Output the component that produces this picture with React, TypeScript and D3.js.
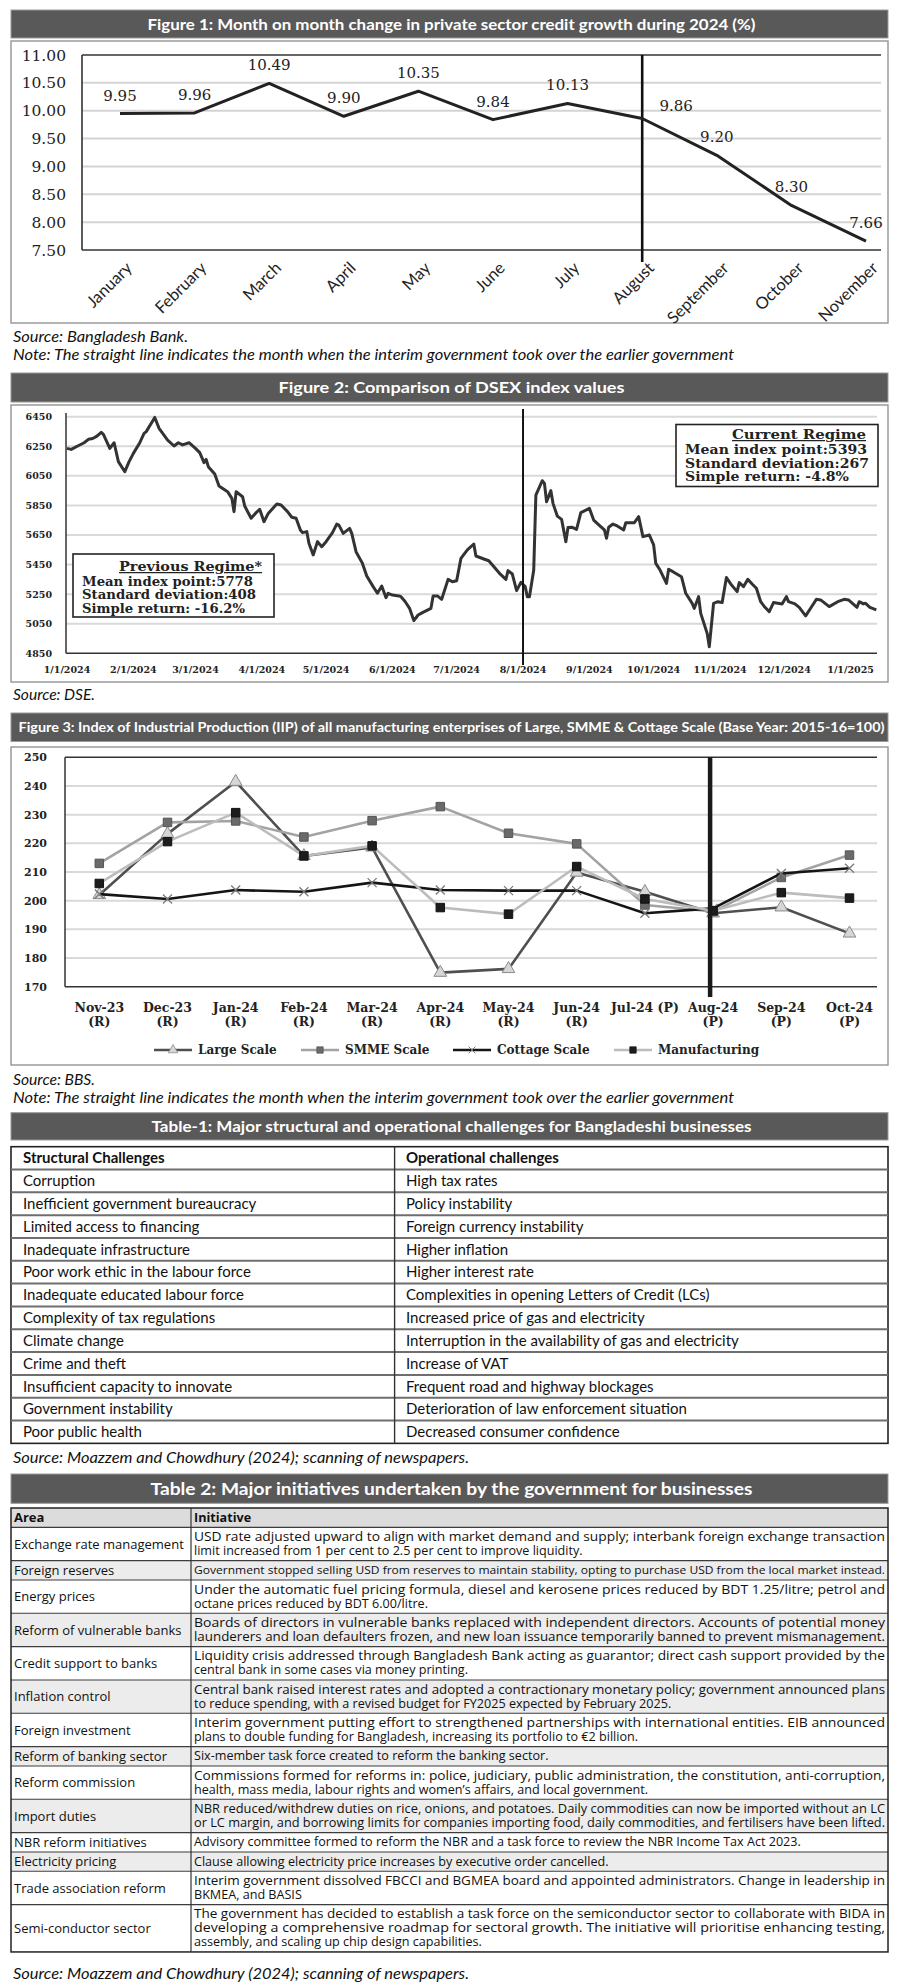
import React from 'react';
import * as d3 from 'd3';

const SANS = "Lato, 'Open Sans', sans-serif";
const SANS2 = "'Open Sans', Lato, sans-serif";
const SERIF = "'DejaVu Serif', 'Liberation Serif', serif";

// ---------------- Figure 1 data ----------------
const creditMonths = ['January', 'February', 'March', 'April', 'May', 'June', 'July', 'August', 'September', 'October', 'November'];
const creditGrowth = [9.95, 9.96, 10.49, 9.9, 10.35, 9.84, 10.13, 9.86, 9.2, 8.3, 7.66];
const creditYTicks = [7.5, 8, 8.5, 9, 9.5, 10, 10.5, 11];
const creditTakeover = 'August';

// ---------------- Figure 2 data ----------------
const dsexStart = '2024-01-01';
const dsexDayOffsets = [
  0, 2, 5, 8, 10, 12, 14, 16, 17, 20, 22, 24, 27, 29, 31, 34, 36, 37, 41, 43, 47, 50, 52, 54, 57, 60, 62, 64, 65, 66,
  69, 71, 75, 77, 78, 79, 82, 83, 86, 88, 90, 92, 94, 98, 100, 103, 105, 107, 109, 110, 112, 113, 115, 117, 119, 121,
  124, 126, 127, 129, 132, 133, 135, 138, 140, 143, 145, 147, 149, 150, 152, 155, 156, 158, 160, 162, 164, 166, 170,
  171, 173, 175, 178, 180, 182, 184, 187, 190, 191, 195, 197, 200, 202, 205, 206, 208, 210, 212, 214, 215, 216, 218,
  219, 222, 223, 224, 226, 227, 229, 231, 233, 234, 236, 238, 240, 244, 246, 248, 251, 252, 253, 255, 257, 260, 261,
  265, 267, 269, 272, 274, 275, 277, 280, 281, 283, 287, 289, 292, 293, 295, 296, 299, 300, 302, 304, 306, 308, 310,
  313, 314, 316, 318, 320, 322, 324, 326, 328, 330, 334, 336, 337, 340, 342, 345, 348, 350, 352, 356, 360, 363, 365,
  369, 370, 372, 373, 375, 378,
];
const dsexValues = [
  6236, 6229, 6252, 6274, 6297, 6303, 6319, 6344, 6331, 6236, 6274, 6146, 6078, 6146, 6202, 6274, 6337, 6349, 6445, 6371,
  6292, 6252, 6274, 6259, 6274, 6236, 6207, 6139, 6161, 6112, 6062, 5981, 5943, 5898, 5808, 5943, 5909, 5846, 5763, 5796,
  5824, 5740, 5796, 5860, 5853, 5808, 5770, 5763, 5684, 5666, 5673, 5594, 5515, 5605, 5571, 5605, 5666, 5724, 5717, 5661,
  5695, 5661, 5537, 5458, 5373, 5301, 5256, 5305, 5226, 5256, 5244, 5238, 5233, 5199, 5154, 5071, 5109, 5125, 5154, 5238,
  5238, 5215, 5350, 5334, 5341, 5492, 5549, 5589, 5508, 5486, 5476, 5425, 5391, 5350, 5409, 5386, 5274, 5330, 5301, 5233,
  5233, 5413, 5920, 6017, 5999, 5875, 5950, 5864, 5778, 5756, 5605, 5700, 5702, 5688, 5801, 5830, 5751, 5724, 5684, 5628,
  5702, 5724, 5711, 5684, 5733, 5733, 5774, 5639, 5650, 5583, 5458, 5413, 5323, 5418, 5402, 5368, 5256, 5188, 5154, 5233,
  5120, 4985, 4895, 5188, 5199, 5193, 5362, 5319, 5267, 5328, 5301, 5350, 5319, 5290, 5199, 5161, 5132, 5193, 5184, 5233,
  5199, 5184, 5161, 5103, 5170, 5215, 5211, 5166, 5199, 5215, 5211, 5161, 5199, 5184, 5188, 5161, 5143,
];
const dsexYTicks = [4850, 5050, 5250, 5450, 5650, 5850, 6050, 6250, 6450];
const dsexTickDates = ['2024-01-01', '2024-02-01', '2024-03-01', '2024-04-01', '2024-05-01', '2024-06-01', '2024-07-01', '2024-08-01', '2024-09-01', '2024-10-01', '2024-11-01', '2024-12-01', '2025-01-01'];
const dsexTakeover = '2024-08-01';
const previousRegimeTitle = 'Previous Regime*';
const previousRegimeLines = ['Mean index point:5778', 'Standard deviation:408', 'Simple return: -16.2%'];
const currentRegimeTitle = 'Current Regime';
const currentRegimeLines = ['Mean index point:5393', 'Standard deviation:267', 'Simple return: -4.8%'];

// ---------------- Figure 3 data ----------------
const iipMonths = ['Nov-23', 'Dec-23', 'Jan-24', 'Feb-24', 'Mar-24', 'Apr-24', 'May-24', 'Jun-24', 'Jul-24', 'Aug-24', 'Sep-24', 'Oct-24'];
const iipStatus = ['(R)', '(R)', '(R)', '(R)', '(R)', '(R)', '(R)', '(R)', '(P)', '(P)', '(P)', '(P)'];
const iipLarge = [202.0, 223.3, 241.5, 215.6, 218.6, 174.9, 176.2, 209.8, 203.1, 195.6, 197.7, 188.6];
const iipSmme = [213.0, 227.3, 227.8, 222.2, 227.9, 232.8, 223.5, 219.8, 198.5, 196.2, 208.1, 215.9];
const iipCottage = [202.3, 200.6, 203.7, 203.1, 206.3, 203.7, 203.5, 203.5, 195.6, 197.3, 209.5, 211.3];
const iipManufacturing = [206.0, 220.6, 230.7, 215.6, 219.1, 197.6, 195.3, 211.9, 200.6, 196.5, 202.8, 200.9];
const iipSeriesNames = ['Large Scale', 'SMME Scale', 'Cottage Scale', 'Manufacturing'];
const iipYTicks = [170, 180, 190, 200, 210, 220, 230, 240, 250];
const iipTakeover = 'Aug-24';

// ---------------- Table 1 data ----------------
const table1Headers = ['Structural Challenges', 'Operational challenges'];
const table1Structural = [
  'Corruption', 'Inefficient government bureaucracy', 'Limited access to financing', 'Inadequate infrastructure',
  'Poor work ethic in the labour force', 'Inadequate educated labour force', 'Complexity of tax regulations',
  'Climate change', 'Crime and theft', 'Insufficient capacity to innovate', 'Government instability', 'Poor public health',
];
const table1Operational = [
  'High tax rates', 'Policy instability', 'Foreign currency instability', 'Higher inflation', 'Higher interest rate',
  'Complexities in opening Letters of Credit (LCs)', 'Increased price of gas and electricity',
  'Interruption in the availability of gas and electricity', 'Increase of VAT', 'Frequent road and highway blockages',
  'Deterioration of law enforcement situation', 'Decreased consumer confidence',
];

// ---------------- Table 2 data ----------------
const table2Headers = ['Area', 'Initiative'];
const table2Areas = [
  'Exchange rate management', 'Foreign reserves', 'Energy prices', 'Reform of vulnerable banks', 'Credit support to banks',
  'Inflation control', 'Foreign investment', 'Reform of banking sector', 'Reform commission', 'Import duties',
  'NBR reform initiatives', 'Electricity pricing', 'Trade association reform', 'Semi-conductor sector',
];
const table2Initiatives = [
  ['USD rate adjusted upward to align with market demand and supply; interbank foreign exchange transaction', 'limit increased from 1 per cent to 2.5 per cent to improve liquidity.'],
  ['Government stopped selling USD from reserves to maintain stability, opting to purchase USD from the local market instead.'],
  ['Under the automatic fuel pricing formula, diesel and kerosene prices reduced by BDT 1.25/litre; petrol and', 'octane prices reduced by BDT 6.00/litre.'],
  ['Boards of directors in vulnerable banks replaced with independent directors. Accounts of potential money', 'launderers and loan defaulters frozen, and new loan issuance temporarily banned to prevent mismanagement.'],
  ['Liquidity crisis addressed through Bangladesh Bank acting as guarantor; direct cash support provided by the', 'central bank in some cases via money printing.'],
  ['Central bank raised interest rates and adopted a contractionary monetary policy; government announced plans', 'to reduce spending, with a revised budget for FY2025 expected by February 2025.'],
  ['Interim government putting effort to strengthened partnerships with international entities. EIB announced', 'plans to double funding for Bangladesh, increasing its portfolio to €2 billion.'],
  ['Six-member task force created to reform the banking sector.'],
  ['Commissions formed for reforms in: police, judiciary, public administration, the constitution, anti-corruption,', 'health, mass media, labour rights and women’s affairs, and local government.'],
  ['NBR reduced/withdrew duties on rice, onions, and potatoes. Daily commodities can now be imported without an LC', 'or LC margin, and borrowing limits for companies importing food, daily commodities, and fertilisers have been lifted.'],
  ['Advisory committee formed to reform the NBR and a task force to review the NBR Income Tax Act 2023.'],
  ['Clause allowing electricity price increases by executive order cancelled.'],
  ['Interim government dissolved FBCCI and BGMEA board and appointed administrators. Change in leadership in', 'BKMEA, and BASIS'],
  ['The government has decided to establish a task force on the semiconductor sector to collaborate with BIDA in', 'developing a comprehensive roadmap for sectoral growth. The initiative will prioritise enhancing testing,', 'assembly, and scaling up chip design capabilities.'],
];
const table2LastLineFull = [false, true, false, true, false, false, false, false, false, true, false, false, false, false];

// ---------------- captions ----------------
const noteText = 'Note: The straight line indicates the month when the interim government took over the earlier government';
const tableSource = 'Source: Moazzem and Chowdhury (2024); scanning of newspapers.';

// ---------------- layout helpers ----------------
const BOX_X = 11;
const BOX_W = 877;
const MID = BOX_X + BOX_W / 2;

function TitleBar({ y, h, text, len, size }: { y: number; h: number; text: string; len: number; size: number }) {
  return (
    <g>
      <rect x={BOX_X} y={y} width={BOX_W} height={h} fill="#595959" stroke="#9a9a9a" strokeWidth={1} />
      <text x={MID + 2} y={y + h / 2} dy="0.36em" textAnchor="middle" fill="#fff" fontFamily={SANS} fontWeight={700}
        fontSize={size} textLength={len} lengthAdjust="spacingAndGlyphs">{text}</text>
    </g>
  );
}

function Caption({ y, text, len }: { y: number; text: string; len: number }) {
  return (
    <text x={13} y={y} fontFamily={SANS} fontStyle="italic" fontSize={15} fill="#111" textLength={len}
      lengthAdjust="spacingAndGlyphs">{text}</text>
  );
}

function Figure1() {
  const x = d3.scalePoint<string>().domain(creditMonths).range([120, 866]);
  const y = d3.scaleLinear().domain([7.5, 11]).range([250, 55]);
  const left = 82, right = 881;
  const line = d3.line<number>().x((_, i) => x(creditMonths[i])!).y((d) => y(d));
  const nudge: Record<string, [number, number]> = { August: [34, 5] };
  return (
    <g>
      <TitleBar y={10} h={28} text="Figure 1: Month on month change in private sector credit growth during 2024 (%)" len={608} size={15.5} />
      <rect x={BOX_X} y={41} width={BOX_W} height={282} fill="#fff" stroke="#8c8c8c" strokeWidth={1.3} />
      {creditYTicks.map((t) => (
        <g key={t}>
          <line x1={left} x2={right} y1={y(t)} y2={y(t)} stroke={t === 11 || t === 7.5 ? '#333' : '#d4d4d4'} strokeWidth={t === 11 || t === 7.5 ? 1.6 : 2} />
          <text x={66} y={y(t)} dy="0.36em" textAnchor="end" fontFamily={SERIF} fontSize={15.5} fill="#222">{t.toFixed(2)}</text>
        </g>
      ))}
      <line x1={left} x2={left} y1={y(11)} y2={y(7.5)} stroke="#333" strokeWidth={1.6} />
      <line x1={x(creditTakeover)} x2={x(creditTakeover)} y1={y(11)} y2={y(7.5) + 12} stroke="#111" strokeWidth={2.6} />
      <path d={line(creditGrowth)!} fill="none" stroke="#222" strokeWidth={3} strokeLinejoin="round" />
      {creditGrowth.map((v, i) => {
        const m = creditMonths[i];
        const [dx, dy] = nudge[m] || [0, 0];
        return (
          <text key={m} x={x(m)! + dx} y={y(v) - 13 + dy} textAnchor="middle" fontFamily={SERIF} fontSize={15} fill="#222">{v.toFixed(2)}</text>
        );
      })}
      {creditMonths.map((m) => (
        <text key={m} transform={`translate(${x(m)! + 6},${262}) rotate(-45)`} textAnchor="end" dy="0.6em"
          fontFamily={SANS} fontSize={16.5} fill="#222">{m}</text>
      ))}
      <Caption y={342} text="Source: Bangladesh Bank." len={175} />
      <Caption y={360} text={noteText} len={721} />
    </g>
  );
}

function RegimeBox({ x0, y0, w, h, title, titleLen, lines, lens, offs }: {
  x0: number; y0: number; w: number; h: number; title: string; titleLen: number; lines: string[]; lens: number[]; offs: number[];
}) {
  return (
    <g>
      <rect x={x0} y={y0} width={w} height={h} fill="#fff" stroke="#222" strokeWidth={1.6} />
      <text x={x0 + w - 12} y={y0 + offs[0]} textAnchor="end" fontFamily={SERIF} fontWeight={700} fontSize={12.5}
        textDecoration="underline" fill="#222" textLength={titleLen} lengthAdjust="spacingAndGlyphs">{title}</text>
      {lines.map((l, i) => (
        <text key={l} x={x0 + 9} y={y0 + offs[i + 1]} fontFamily={SERIF} fontWeight={700} fontSize={12.5} fill="#222"
          textLength={lens[i]} lengthAdjust="spacingAndGlyphs">{l}</text>
      ))}
    </g>
  );
}

function Figure2() {
  const parse = d3.timeParse('%Y-%m-%d');
  const start = parse(dsexStart)!;
  const x = d3.scaleTime().domain([start, parse('2025-01-01')!]).range([67, 850.6]);
  const y = d3.scaleLinear().domain([4850, 6450]).range([653.3, 416.7]);
  const left = 66, right = 877;
  const pts = dsexDayOffsets.map((d, i) => [d3.timeDay.offset(start, d), dsexValues[i]] as [Date, number]);
  const line = d3.line<[Date, number]>().x((d) => x(d[0])).y((d) => y(d[1]));
  const fmt = d3.timeFormat('%-m/%-d/%Y');
  const tx = x(parse(dsexTakeover)!);
  return (
    <g>
      <TitleBar y={373} h={29} text="Figure 2: Comparison of DSEX index values" len={346} size={15.5} />
      <rect x={BOX_X} y={405} width={BOX_W} height={277} fill="#fff" stroke="#8c8c8c" strokeWidth={1.3} />
      {dsexYTicks.map((t) => (
        <g key={t}>
          {t !== 4850 && <line x1={left} x2={right} y1={y(t)} y2={y(t)} stroke="#d9d9d9" strokeWidth={2} />}
          <text x={52} y={y(t)} dy="0.36em" textAnchor="end" fontFamily={SERIF} fontWeight={700} fontSize={9.5} fill="#222">{t}</text>
        </g>
      ))}
      <line x1={left} x2={right} y1={y(4850)} y2={y(4850)} stroke="#333" strokeWidth={1.5} />
      <line x1={left} x2={left} y1={413} y2={y(4850)} stroke="#333" strokeWidth={1.5} />
      {dsexTickDates.map((d) => (
        <text key={d} x={x(parse(d)!)} y={673} textAnchor="middle" fontFamily={SERIF} fontWeight={700} fontSize={9.5} fill="#222">{fmt(parse(d)!)}</text>
      ))}
      <path d={line(pts)!} fill="none" stroke="#333" strokeWidth={3} strokeLinejoin="round" />
      <line x1={tx} x2={tx} y1={409} y2={665} stroke="#111" strokeWidth={2} />
      <RegimeBox x0={73} y0={554} w={201} h={63} title={previousRegimeTitle} titleLen={143}
        lines={previousRegimeLines} lens={[171, 174, 163]} offs={[17, 32, 45, 58.5]} />
      <RegimeBox x0={676} y0={424.5} w={202} h={62} title={currentRegimeTitle} titleLen={134}
        lines={currentRegimeLines} lens={[182, 184, 164]} offs={[14.5, 29.5, 43, 56.5]} />
      <Caption y={700} text="Source: DSE." len={82} />
    </g>
  );
}

type Marker = 'triangle' | 'square' | 'x';
function MarkerShape({ kind, fill, stroke }: { kind: Marker; fill: string; stroke: string }) {
  if (kind === 'x') {
    return <path d="M-4.5,-4.5L4.5,4.5M-4.5,4.5L4.5,-4.5" stroke={stroke} strokeWidth={1.3} fill="none" />;
  }
  const sym = d3.symbol().type(kind === 'triangle' ? d3.symbolTriangle : d3.symbolSquare).size(kind === 'triangle' ? 70 : 72);
  return <path d={sym()!} fill={fill} stroke={stroke} strokeWidth={1} />;
}

function Figure3() {
  const x = d3.scalePoint<string>().domain(iipMonths).range([99.3, 849.5]);
  const y = d3.scaleLinear().domain([170, 250]).range([986.7, 757.3]);
  const left = 65, right = 877;
  const series = [
    { name: iipSeriesNames[0], values: iipLarge, line: '#4f4f4f', marker: 'triangle' as Marker, mFill: '#d6d6d6', mStroke: '#8a8a8a' },
    { name: iipSeriesNames[1], values: iipSmme, line: '#a3a3a3', marker: 'square' as Marker, mFill: '#6a6a6a', mStroke: '#555' },
    { name: iipSeriesNames[2], values: iipCottage, line: '#151515', marker: 'x' as Marker, mFill: 'none', mStroke: '#7a7a7a' },
    { name: iipSeriesNames[3], values: iipManufacturing, line: '#bcbcbc', marker: 'square' as Marker, mFill: '#1c1c1c', mStroke: '#111' },
  ];
  const lg = d3.line<number>().x((_, i) => x(iipMonths[i])!).y((d) => y(d));
  const legendX = [154, 301, 453, 614];
  const tx = x(iipTakeover)!;
  return (
    <g>
      <TitleBar y={713} h={28.5} text="Figure 3: Index of Industrial Production (IIP) of all manufacturing enterprises of Large, SMME & Cottage Scale (Base Year: 2015-16=100)" len={866} size={14} />
      <rect x={BOX_X} y={747} width={BOX_W} height={318} fill="#fff" stroke="#8c8c8c" strokeWidth={1.3} />
      {iipYTicks.map((t) => (
        <g key={t}>
          <line x1={left} x2={right} y1={y(t)} y2={y(t)} stroke={t === 250 || t === 170 ? '#333' : '#d9d9d9'} strokeWidth={t === 250 || t === 170 ? 1.5 : 2} />
          <text x={47} y={y(t)} dy="0.36em" textAnchor="end" fontFamily={SERIF} fontWeight={700} fontSize={11} fill="#222">{t}</text>
        </g>
      ))}
      <line x1={left} x2={left} y1={y(250)} y2={y(170)} stroke="#333" strokeWidth={1.5} />
      {iipMonths.map((m, i) => (
        iipMonths[i] === 'Jul-24' ? (
          <text key={m} x={x(m)} y={1012} textAnchor="middle" fontFamily={SERIF} fontWeight={700} fontSize={12.5} fill="#222">{`${m} ${iipStatus[i]}`}</text>
        ) : (
          <g key={m}>
            <text x={x(m)} y={1012} textAnchor="middle" fontFamily={SERIF} fontWeight={700} fontSize={12.5} fill="#222">{m}</text>
            <text x={x(m)} y={1026} textAnchor="middle" fontFamily={SERIF} fontWeight={700} fontSize={12.5} fill="#222">{iipStatus[i]}</text>
          </g>
        )
      ))}
      {series.map((s) => (
        <g key={s.name}>
          <path d={lg(s.values)!} fill="none" stroke={s.line} strokeWidth={2.6} strokeLinejoin="round" />
          {s.values.map((v, i) => (
            <g key={i} transform={`translate(${x(iipMonths[i])},${y(v)})`}>
              <MarkerShape kind={s.marker} fill={s.mFill} stroke={s.mStroke} />
            </g>
          ))}
        </g>
      ))}
      <line x1={tx - 3} x2={tx - 3} y1={y(250)} y2={997} stroke="#1a1a1a" strokeWidth={4.5} />
      {series.map((s, i) => (
        <g key={s.name} transform={`translate(${legendX[i]},1050)`}>
          <line x1={0} x2={38} y1={0} y2={0} stroke={s.line} strokeWidth={2.6} />
          <g transform="translate(19,0) scale(0.75)">
            <MarkerShape kind={s.marker} fill={s.mFill} stroke={s.mStroke} />
          </g>
          <text x={44} y={0} dy="0.36em" fontFamily={SERIF} fontWeight={700} fontSize={12} fill="#222">{s.name}</text>
        </g>
      ))}
      <Caption y={1085} text="Source: BBS." len={82} />
      <Caption y={1103} text={noteText} len={721} />
    </g>
  );
}

function Table1() {
  const top = 1146.7;
  const rowH = 22.82;
  const rows = [table1Headers, ...table1Structural.map((s, i) => [s, table1Operational[i]])];
  const colX = 394.6;
  const bottom = top + rowH * rows.length;
  return (
    <g>
      <TitleBar y={1112.7} h={27.3} text="Table-1: Major structural and operational challenges for Bangladeshi businesses" len={600} size={15.5} />
      <rect x={BOX_X} y={top} width={BOX_W} height={bottom - top} fill="#fff" stroke="#222" strokeWidth={1.6} />
      {rows.slice(1).map((_, i) => (
        <line key={i} x1={BOX_X} x2={BOX_X + BOX_W} y1={top + rowH * (i + 1)} y2={top + rowH * (i + 1)} stroke="#6e6e6e" strokeWidth={2} />
      ))}
      <line x1={colX} x2={colX} y1={top} y2={bottom} stroke="#333" strokeWidth={1.4} />
      {rows.map((r, i) => (
        <g key={i}>
          <text x={23} y={top + rowH * i + rowH / 2} dy="0.35em" fontFamily={SANS} fontWeight={i === 0 ? 700 : 400} fontSize={15} fill="#111">{r[0]}</text>
          <text x={406} y={top + rowH * i + rowH / 2} dy="0.35em" fontFamily={SANS} fontWeight={i === 0 ? 700 : 400} fontSize={15} fill="#111">{r[1]}</text>
        </g>
      ))}
      <Caption y={1463} text={tableSource} len={456} />
    </g>
  );
}

function Table2() {
  const top = 1508;
  const LH = 14;
  const PAD = 5.33;
  const colX = 191;
  const textW = BOX_X + BOX_W - 3 - (colX + 3);
  const rows = [
    { area: table2Headers[0], lines: [table2Headers[1]], header: true, full: false },
    ...table2Areas.map((a, i) => ({ area: a, lines: table2Initiatives[i], header: false, full: table2LastLineFull[i] })),
  ];
  let yy = top;
  const laid = rows.map((r, i) => {
    const h = r.lines.length * LH + PAD;
    const o = { ...r, y: yy, h, idx: i };
    yy += h;
    return o;
  });
  const bottom = yy;
  return (
    <g>
      <TitleBar y={1474} h={29.3} text="Table 2: Major initiatives undertaken by the government for businesses" len={602} size={17} />
      <rect x={BOX_X} y={top} width={BOX_W} height={bottom - top} fill="#fff" />
      {laid.map((r) => (
        <rect key={`bg${r.idx}`} x={BOX_X} y={r.y} width={BOX_W} height={r.h}
          fill={r.header ? '#dcdcdc' : r.idx % 2 === 0 && r.idx < 14 ? '#ececec' : '#fff'} />
      ))}
      {laid.slice(1).map((r) => (
        <line key={`l${r.idx}`} x1={BOX_X} x2={BOX_X + BOX_W} y1={r.y} y2={r.y} stroke="#3c3c3c" strokeWidth={1.1} />
      ))}
      <rect x={BOX_X} y={top} width={BOX_W} height={bottom - top} fill="none" stroke="#222" strokeWidth={1.5} />
      <line x1={colX} x2={colX} y1={top} y2={bottom} stroke="#333" strokeWidth={1.2} />
      {laid.map((r) => (
        <g key={`t${r.idx}`}>
          <text x={BOX_X + 3} y={r.y + r.h / 2} dy="0.36em" fontFamily={SANS2} fontWeight={r.header ? 700 : 400}
            fontSize={13} fill="#111">{r.area}</text>
          {r.lines.map((ln, j) => {
            const justify = j < r.lines.length - 1 || r.full;
            const fs = justify ? Math.min(12.6, textW / (ln.length * 0.5)) : 12.6;
            return (
              <text key={j} x={colX + 3} y={r.y + PAD / 2 + LH * j + 11} fontFamily={SANS2} fontWeight={r.header ? 700 : 400}
                fontSize={fs} fill="#111" {...(justify ? { textLength: textW, lengthAdjust: 'spacingAndGlyphs' } : {})}>{ln}</text>
            );
          })}
        </g>
      ))}
      <Caption y={1979} text={tableSource} len={456} />
    </g>
  );
}

export default function App() {
  return (
    <svg width={900} height={1983} viewBox="0 0 900 1983" style={{ position: 'absolute', left: 0, top: 0, background: '#fff' }}
      xmlns="http://www.w3.org/2000/svg">
      <rect x={0} y={0} width={900} height={1983} fill="#fff" />
      <Figure1 />
      <Figure2 />
      <Figure3 />
      <Table1 />
      <Table2 />
    </svg>
  );
}
